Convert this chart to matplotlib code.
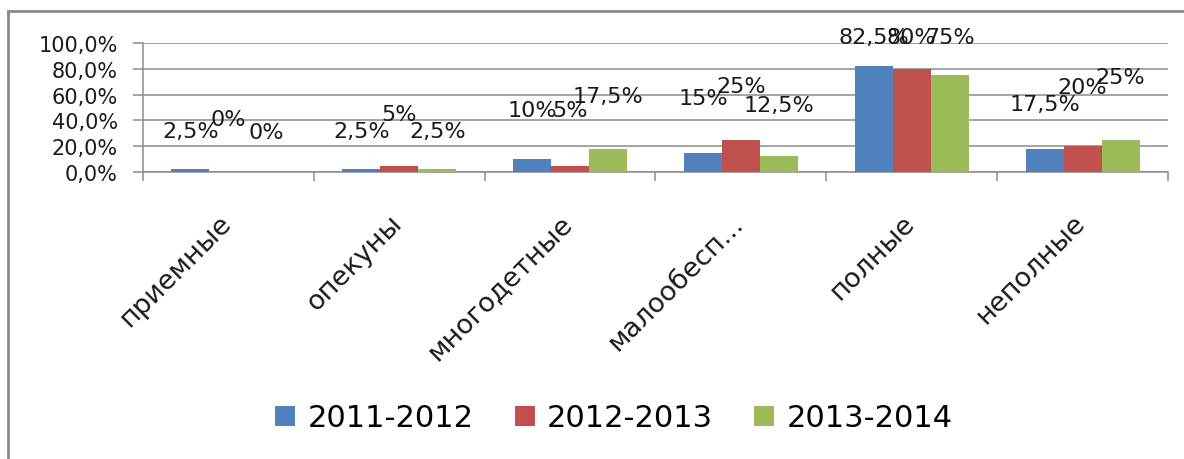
import matplotlib
matplotlib.use("Agg")
import matplotlib.pyplot as plt
import numpy as np
from matplotlib.lines import Line2D
import matplotlib.transforms as mtransforms

# ---- data ----
categories = ["приемные", "опекуны", "многодетные", "малообесп...", "полные", "неполные"]
series_names = ["2011-2012", "2012-2013", "2013-2014"]
s2011 = [2.5, 2.5, 10, 15, 82.5, 17.5]
s2012 = [0, 5, 5, 25, 80, 20]
s2013 = [0, 2.5, 17.5, 12.5, 75, 25]
labels2011 = ["2,5%", "2,5%", "10%", "15%", "82,5%", "17,5%"]
labels2012 = ["0%", "5%", "5%", "25%", "80%", "20%"]
labels2013 = ["0%", "2,5%", "17,5%", "12,5%", "75%", "25%"]
yticks = [0, 20, 40, 60, 80, 100]
ytick_labels = ["0,0%", "20,0%", "40,0%", "60,0%", "80,0%", "100,0%"]

# ---- layout (data-label heights as placed in the original chart, in % units) ----
label_heights = [
    [32, 32, 48, 57, 105, 53],
    [41, 45, 48, 67, 105, 66],
    [31, 32, 59, 52, 105, 74],
]
colors = ["#4F81BD", "#C0504D", "#9BBB59"]
W, H = 1184, 460

fig = plt.figure(figsize=(W / 100, H / 100), dpi=100)
ax = fig.add_axes([143 / W, (H - 173) / H, (1168 - 143) / W, 129 / H])

x = np.arange(len(categories))
bw = 1 / 4.5
all_series = [s2011, s2012, s2013]
all_labels = [labels2011, labels2012, labels2013]
for i, (vals, lab, c) in enumerate(zip(all_series, all_labels, colors)):
    xs = x + (i - 1) * bw
    ax.bar(xs, vals, width=bw, color=c, label=series_names[i], zorder=3)
    for xi, t, h in zip(xs, lab, label_heights[i]):
        ax.text(xi, h, t, ha="center", va="center", fontsize=16, color="#1a1a1a",
                zorder=4, clip_on=False)

ax.set_xlim(-0.5, len(categories) - 0.5)
ax.set_ylim(0, 100)
ax.set_yticks(yticks)
ax.set_yticklabels(ytick_labels, fontsize=15, color="#1a1a1a")
ax.yaxis.grid(True, color="#8c8c8c", linewidth=1.1, zorder=0)
ax.set_axisbelow(True)

ax.set_xticks(x)
ax.set_xticklabels(categories, rotation=45, ha="right", fontsize=19.5, color="#1a1a1a")
ax.tick_params(axis="x", which="major", length=0, pad=27)
ax.set_xticks(np.arange(len(categories) + 1) - 0.5, minor=True)
ax.tick_params(axis="x", which="minor", length=6.5, color="#8c8c8c", width=1.1)
ax.tick_params(axis="y", which="major", length=7, color="#8c8c8c", width=1.1, pad=11)

# shift x tick labels slightly right so their end meets the category centre
offset = mtransforms.ScaledTranslation(8 / 100, 0, fig.dpi_scale_trans)
for lbl in ax.get_xticklabels():
    lbl.set_transform(lbl.get_transform() + offset)

for s in ["top", "right"]:
    ax.spines[s].set_visible(False)
for s in ["left", "bottom"]:
    ax.spines[s].set_color("#8c8c8c")
    ax.spines[s].set_linewidth(1.1)

leg = fig.legend(loc="center", bbox_to_anchor=(614 / W, 41 / H), ncol=3, frameon=False,
                 fontsize=22, handlelength=0.65, handleheight=0.65, handletextpad=0.4,
                 columnspacing=1.35, borderaxespad=0)

# outer chart frame (left and top edges visible)
fx, fy = 8 / W, 1 - 12 / H
fig.add_artist(Line2D([fx, fx], [0, fy], transform=fig.transFigure, color="#8a8a8a", lw=2))
fig.add_artist(Line2D([fx, 1.01], [fy, fy], transform=fig.transFigure, color="#8a8a8a", lw=2))

fig.savefig("out.png", dpi=100, facecolor="white")
